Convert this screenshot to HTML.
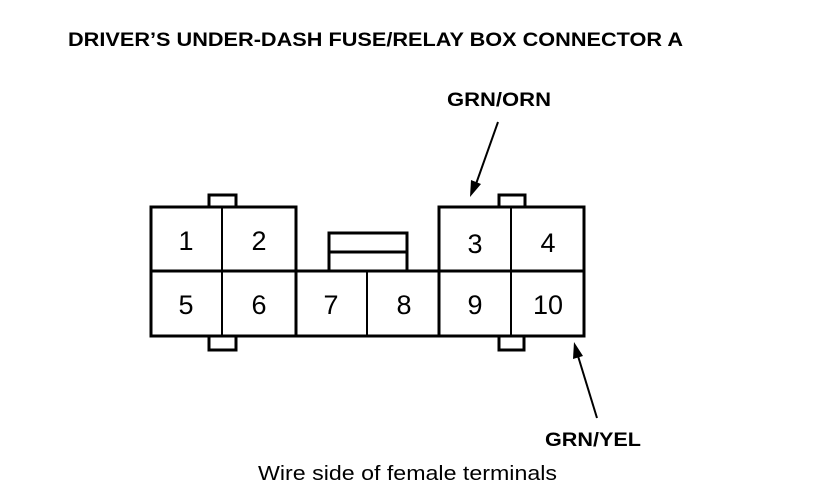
<!DOCTYPE html>
<html><head><style>
html,body{margin:0;padding:0;background:#fff;}
body{width:816px;height:494px;overflow:hidden;position:relative;}
</style></head><body>
<svg width="816" height="494" viewBox="0 0 816 494" xmlns="http://www.w3.org/2000/svg" style="position:absolute;left:0;top:0">
<g font-family="Liberation Sans, sans-serif" fill="#000">
<text x="68" y="46" font-size="19" font-weight="bold" textLength="615" lengthAdjust="spacingAndGlyphs">DRIVER’S UNDER-DASH FUSE/RELAY BOX CONNECTOR A</text>
<text x="447" y="106" font-size="19" font-weight="bold" textLength="104" lengthAdjust="spacingAndGlyphs">GRN/ORN</text>
<text x="545" y="446" font-size="19" font-weight="bold" textLength="96" lengthAdjust="spacingAndGlyphs">GRN/YEL</text>
<text x="258" y="480" font-size="20" textLength="299" lengthAdjust="spacingAndGlyphs">Wire side of female terminals</text>
</g>
<g fill="none" stroke="#000" stroke-width="3">
<rect x="209" y="195" width="27" height="12"/>
<rect x="499" y="195" width="26" height="12"/>
<rect x="209" y="336" width="27" height="14"/>
<rect x="499" y="336" width="25" height="14"/>
<rect x="151" y="207" width="145" height="129" fill="#fff"/>
<rect x="439" y="207" width="145" height="129" fill="#fff"/>
<rect x="151" y="271" width="433" height="65"/>
<rect x="329" y="233" width="78" height="38"/>
<line x1="329" y1="252" x2="407" y2="252"/>
</g>
<g stroke="#000" stroke-width="2">
<line x1="222" y1="207" x2="222" y2="336"/>
<line x1="296" y1="271" x2="296" y2="336"/>
<line x1="367" y1="271" x2="367" y2="336"/>
<line x1="439" y1="271" x2="439" y2="336"/>
<line x1="511" y1="207" x2="511" y2="336"/>
<line x1="498" y1="122" x2="476" y2="184"/>
<line x1="597" y1="418" x2="578" y2="356"/>
</g>
<polygon points="470,197 471,180 481,184" fill="#000"/>
<polygon points="574,342 573,359 583,356" fill="#000"/>
<g font-family="Liberation Sans, sans-serif" font-size="27" fill="#000" text-anchor="middle">
<text x="186" y="250">1</text>
<text x="259" y="250">2</text>
<text x="475" y="253">3</text>
<text x="548" y="252">4</text>
<text x="186" y="314">5</text>
<text x="259" y="314">6</text>
<text x="331" y="314">7</text>
<text x="404" y="314">8</text>
<text x="475" y="314">9</text>
<text x="548" y="314">10</text>
</g>
</svg>
</body></html>
